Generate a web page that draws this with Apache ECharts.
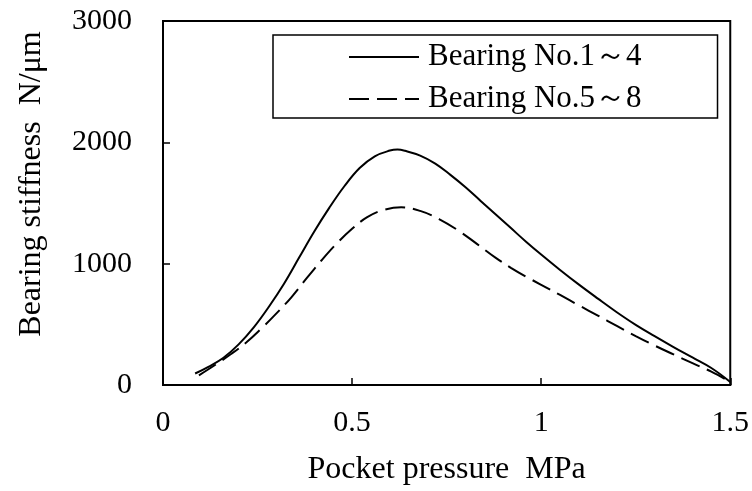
<!DOCTYPE html>
<html>
<head>
<meta charset="utf-8">
<script src="https://cdn.jsdelivr.net/npm/echarts@6/dist/echarts.min.js"></script>
<style>html,body{margin:0;padding:0;background:#fff;}#c{width:752px;height:491px;}</style>
</head>
<body>
<div id="c"></div>
<script>
const seriesNames = ['Bearing No.1～4', 'Bearing No.5～8'];
const xTickLabels = ['0', '0.5', '1', '1.5'];
const yTickLabels = ['0', '1000', '2000', '3000'];
const bearing1to4 = [
  [0.085, 95], [0.12, 150], [0.16, 225], [0.20, 335], [0.24, 475], [0.28, 645], [0.32, 835],
  [0.36, 1050], [0.40, 1265], [0.44, 1462], [0.48, 1640], [0.52, 1788], [0.56, 1885],
  [0.60, 1932], [0.62, 1940], [0.64, 1930], [0.68, 1891], [0.72, 1825], [0.76, 1732],
  [0.80, 1630], [0.84, 1517], [0.88, 1405], [0.92, 1293], [0.96, 1181], [1.00, 1075],
  [1.05, 948], [1.10, 827], [1.15, 712], [1.20, 600], [1.25, 496], [1.30, 403],
  [1.35, 313], [1.40, 227], [1.45, 140], [1.50, 25]
];
const bearing5to8 = [
  [0.095, 80], [0.14, 170], [0.18, 255], [0.22, 350], [0.26, 465], [0.30, 590], [0.34, 725],
  [0.38, 880], [0.42, 1030], [0.46, 1168], [0.50, 1288], [0.54, 1383], [0.58, 1440],
  [0.63, 1465], [0.68, 1435], [0.73, 1368], [0.78, 1275], [0.83, 1163], [0.88, 1048],
  [0.92, 966], [0.96, 893], [1.00, 826], [1.05, 742], [1.10, 656], [1.15, 572],
  [1.20, 487], [1.25, 403], [1.30, 325], [1.35, 252], [1.40, 180], [1.45, 110], [1.50, 25]
];

const FONT = 'Liberation Serif, Times New Roman, serif';
const chart = echarts.init(document.getElementById('c'), null, {renderer: 'canvas'});
chart.setOption({
  backgroundColor: '#fff',
  animation: false,
  grid: {left: 163, right: 20, top: 21, bottom: 105, show: true, borderColor: '#000', borderWidth: 2, backgroundColor: 'transparent'},
  legend: {
    left: 273, top: 35, orient: 'vertical',
    borderColor: '#000', borderWidth: 1.5, borderRadius: 0,
    padding: [6, 76, 3, 75],
    itemWidth: 70, itemHeight: 14, itemGap: 10,
    itemStyle: {opacity: 0},
    textStyle: {fontFamily: FONT, fontSize: 31, lineHeight: 32, color: '#000', padding: [0, 0, 0, 4]},
    data: seriesNames
  },
  xAxis: {
    type: 'value', min: 0, max: 1.5, interval: 0.5,
    name: 'Pocket pressure  MPa', nameLocation: 'middle', nameGap: 69,
    nameTextStyle: {fontFamily: FONT, fontSize: 32, color: '#000'},
    axisLine: {show: true, lineStyle: {color: '#000', width: 2}},
    axisTick: {show: true, inside: true, length: 7, lineStyle: {color: '#000', width: 1.5}},
    splitLine: {show: false},
    axisLabel: {fontFamily: FONT, fontSize: 30, color: '#000', margin: 23,
      formatter: v => xTickLabels[Math.round(v / 0.5)] }
  },
  yAxis: {
    type: 'value', min: 0, max: 3000, interval: 1000,
    name: 'Bearing stiffness  N/μm', nameLocation: 'middle', nameGap: 115, nameRotate: 90,
    nameTextStyle: {fontFamily: FONT, fontSize: 32, color: '#000', padding: [0, 0, 0, 38]},
    axisLine: {show: true, lineStyle: {color: '#000', width: 2}},
    axisTick: {show: true, inside: true, length: 7, lineStyle: {color: '#000', width: 1.5}},
    splitLine: {show: false},
    axisLabel: {fontFamily: FONT, fontSize: 30, color: '#000', margin: 31,
      formatter: v => yTickLabels[Math.round(v / 1000)] }
  },
  series: [
    {name: seriesNames[0], type: 'line', data: bearing1to4, smooth: 0.4, symbol: 'none',
     lineStyle: {color: '#000', width: 2, type: 'solid'}, itemStyle: {color: '#000'}},
    {name: seriesNames[1], type: 'line', data: bearing5to8, smooth: 0.4, symbol: 'none',
     lineStyle: {color: '#000', width: 2, type: [20, 8]}, itemStyle: {color: '#000'}}
  ]
});
</script>
</body>
</html>
